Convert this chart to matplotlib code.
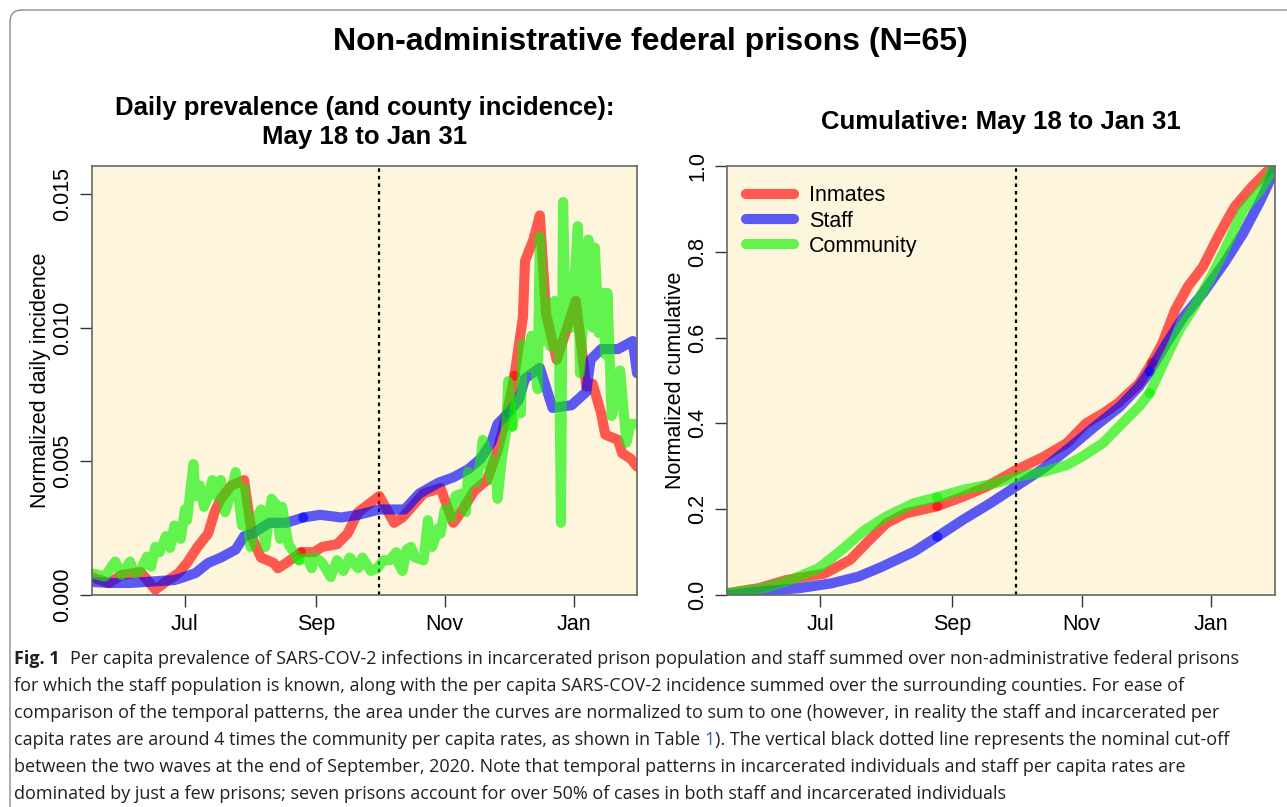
import numpy as np
import matplotlib
matplotlib.use("Agg")
import matplotlib.pyplot as plt
import matplotlib.dates as mdates
from matplotlib.patches import FancyBboxPatch
from matplotlib.transforms import IdentityTransform

# ------------------------------------------------------------------
# 1. Data (days since May 18, 2020)
# ------------------------------------------------------------------
start = np.datetime64("2020-05-18")
end_day = 258          # Jan 31
cutoff_day = 136       # Oct 1 (dotted line)

# daily panel, values in units of 1e-3
inmate_days = [0, 8, 14, 23, 30, 35, 41, 45, 50, 55, 58, 61, 66, 72, 76, 80, 86, 88, 92,
               99, 105, 109, 116, 121, 126, 131, 136, 143, 147, 157, 165, 171, 173, 181,
               187, 192, 197, 200, 204, 205, 209, 212, 215, 220, 229, 234, 237, 241, 243,
               249, 251, 255, 258]
inmate_daily = [0.67, 0.45, 0.75, 0.86, 0.2, 0.5, 0.82, 1.2, 1.8, 2.3, 3.1, 3.6, 4.1, 4.3,
                2.1, 1.4, 1.2, 1.0, 1.2, 1.6, 1.6, 1.8, 1.9, 2.3, 3.1, 3.4, 3.7, 2.7, 2.9,
                3.8, 4.0, 2.7, 2.9, 3.9, 4.3, 5.4, 7.0, 8.2, 10.4, 12.5, 13.3, 14.2, 10.5,
                8.8, 11.0, 7.8, 7.9, 6.8, 6.0, 5.8, 5.3, 5.1, 4.8]

staff_days = [0, 8, 18, 39, 42, 49, 55, 61, 68, 72, 76, 84, 92, 100, 108, 118, 126, 136,
              148, 155, 164, 171, 178, 184, 189, 192, 197, 202, 205, 212, 218, 227, 234,
              236, 241, 249, 256, 258]
staff_daily = [0.49, 0.45, 0.45, 0.56, 0.63, 0.82, 1.2, 1.4, 1.7, 2.2, 2.3, 2.7, 2.7, 2.9,
               3.0, 2.9, 3.0, 3.2, 3.2, 3.8, 4.2, 4.4, 4.7, 5.1, 5.7, 6.4, 6.8, 7.3, 8.1,
               8.5, 7.0, 7.1, 7.6, 8.8, 9.2, 9.2, 9.5, 8.3]

community_days = [0, 6, 11, 14, 18, 20, 23, 26, 28, 30, 32, 35, 37, 39, 42, 44, 45, 48, 49,
                  51, 53, 55, 57, 59, 61, 63, 65, 68, 69, 71, 72, 75, 78, 80, 82, 85, 87,
                  89, 90, 93, 98, 102, 104, 106, 109, 113, 116, 119, 122, 126, 128, 132,
                  135, 138, 141, 144, 145, 147, 149, 151, 153, 157, 159, 161, 164, 165,
                  167, 170, 172, 175, 177, 178, 182, 184, 185, 187, 189, 191, 192, 194,
                  196, 197, 199, 201, 203, 204, 206, 208, 211, 212, 214, 216, 217, 219,
                  221, 222, 223, 224, 227, 230, 231, 233, 235, 237, 238, 240, 242, 243,
                  244, 246, 249, 250, 253, 255, 257]
community_daily = [0.81, 0.69, 1.25, 0.75, 1.25, 0.82, 0.94, 1.43, 1.06, 1.8, 1.6, 2.2,
                   1.76, 2.6, 2.1, 3.2, 2.8, 4.9, 3.7, 4.1, 3.3, 3.7, 4.3, 3.7, 4.3, 3.1,
                   3.6, 4.6, 3.9, 2.6, 4.0, 1.8, 2.9, 3.2, 1.8, 3.6, 3.4, 2.1, 3.3, 1.9,
                   1.3, 1.4, 1.0, 1.4, 1.2, 0.67, 1.3, 0.9, 1.4, 1.0, 1.4, 0.9, 1.0, 1.3,
                   1.3, 1.6, 1.2, 0.9, 1.7, 1.8, 1.4, 1.3, 2.8, 1.8, 2.5, 2.3, 3.2, 2.9,
                   3.7, 3.8, 3.1, 4.6, 4.2, 5.1, 5.8, 5.4, 4.3, 5.0, 3.6, 5.1, 6.1, 8.0,
                   6.3, 7.3, 6.8, 9.4, 8.5, 9.7, 7.7, 13.4, 9.5, 10.9, 9.3, 11.0, 10.0,
                   2.7, 14.7, 11.0, 10.0, 13.8, 8.3, 11.0, 13.3, 10.0, 13.0, 9.8, 11.3,
                   9.0, 11.3, 6.7, 7.6, 8.4, 5.7, 6.4, 6.4]

# cumulative panel
inmate_cum_days = [0, 15, 28, 46, 58, 67, 75, 84, 99, 111, 122, 136, 149, 160, 169, 177,
                   184, 194, 200, 205, 211, 217, 224, 232, 239, 247, 254, 258]
inmate_cum = [0.004, 0.016, 0.035, 0.05, 0.082, 0.128, 0.167, 0.19, 0.207, 0.229, 0.252,
              0.291, 0.322, 0.354, 0.40, 0.423, 0.447, 0.493, 0.541, 0.587, 0.665, 0.719,
              0.765, 0.843, 0.905, 0.951, 0.986, 1.0]

staff_cum_days = [0, 15, 34, 49, 62, 73, 88, 99, 111, 124, 136, 149, 162, 173, 185, 194,
                  199, 207, 215, 224, 234, 243, 251, 255, 258]
staff_cum = [0.0, 0.008, 0.016, 0.027, 0.043, 0.066, 0.101, 0.136, 0.175, 0.214, 0.253,
             0.295, 0.346, 0.392, 0.439, 0.486, 0.521, 0.587, 0.649, 0.703, 0.773, 0.843,
             0.918, 0.96, 1.0]

community_cum_days = [0, 17, 30, 43, 54, 65, 75, 88, 99, 111, 126, 137, 149, 160, 167, 177,
                      186, 194, 199, 207, 213, 220, 228, 235, 243, 251, 258]
community_cum = [0.004, 0.016, 0.035, 0.062, 0.105, 0.152, 0.183, 0.214, 0.228, 0.245,
                 0.26, 0.276, 0.287, 0.303, 0.322, 0.354, 0.40, 0.439, 0.471, 0.556, 0.618,
                 0.672, 0.742, 0.812, 0.897, 0.943, 1.0]

labels = ["Inmates", "Staff", "Community"]
colors = [(1, 0, 0, 0.64), (0, 0, 1, 0.64), (0.05, 0.95, 0, 0.64)]

caption = [
    "Per capita prevalence of SARS-COV-2 infections in incarcerated prison population and staff summed over non-administrative federal prisons",
    "for which the staff population is known, along with the per capita SARS-COV-2 incidence summed over the surrounding counties. For ease of",
    "comparison of the temporal patterns, the area under the curves are normalized to sum to one (however, in reality the staff and incarcerated per",
    "capita rates are around 4 times the community per capita rates, as shown in Table",
    "between the two waves at the end of September, 2020. Note that temporal patterns in incarcerated individuals and staff per capita rates are",
    "dominated by just a few prisons; seven prisons account for over 50% of cases in both staff and incarcerated individuals",
]
caption_line4_tail = "). The vertical black dotted line represents the nominal cut-off"

# ------------------------------------------------------------------
# 2. Figure setup
# ------------------------------------------------------------------
W, H = 1287, 807
plt.rcParams["font.family"] = ["Liberation Sans", "DejaVu Sans"]
fig = plt.figure(figsize=(W / 100, H / 100), dpi=100)
fig.patch.set_facecolor("white")

# outer frame of the figure panel
frame = FancyBboxPatch((10, -30), 1320, 827, boxstyle="round,pad=0,rounding_size=12",
                       transform=IdentityTransform(), fc="none", ec="#8c8c8c", lw=1.0)
fig.patches.append(frame)


def px_axes(x0, x1, ytop, ybot):
    return fig.add_axes([x0 / W, 1 - ybot / H, (x1 - x0) / W, (ybot - ytop) / H])


def to_dates(days):
    return start + np.array(days).astype("timedelta64[D]")


def plot_split(ax, days, vals, color, label=None):
    # the original draws each series in pieces, which leaves darker dots where they meet
    days = np.array(days)
    k1 = int(np.argmin(np.abs(days - 99)))
    k2 = int(np.argmin(np.abs(days - 199)))
    d = to_dates(days)
    v = np.array(vals)
    for i, (a, b) in enumerate([(0, k1 + 1), (k1, k2 + 1), (k2, len(d))]):
        ax.plot(d[a:b], v[a:b], color=color, lw=7.3, solid_capstyle="round",
                solid_joinstyle="round", label=label if i == 0 else None)


def style_axes(ax, ymax, yticks, yfmt):
    ax.set_facecolor("#fdf6dc")
    ax.set_xlim(start, start + np.timedelta64(end_day, "D"))
    ax.set_ylim(0, ymax)
    ax.xaxis.set_major_locator(mdates.MonthLocator(bymonth=[1, 7, 9, 11]))
    ax.xaxis.set_major_formatter(mdates.DateFormatter("%b"))
    ax.set_yticks(yticks)
    ax.set_yticklabels([yfmt.format(t) for t in yticks], rotation=90, va="center")
    ax.tick_params(axis="both", length=8.5, width=1.0, color="#333333",
                   labelsize=15.5, pad=5)
    for s in ax.spines.values():
        s.set_color("#666666")
        s.set_linewidth(1.2)
    ax.axvline(start + np.timedelta64(cutoff_day, "D"), color="black", lw=1.6,
               linestyle=(0, (1.6, 1.8)), zorder=1)


# ------------------------------------------------------------------
# 3. Left: daily prevalence
# ------------------------------------------------------------------
ax1 = px_axes(92, 637, 166, 595)
style_axes(ax1, 0.01605, [0.0, 0.005, 0.010, 0.015], "{:.3f}")
for days, vals, c in [(inmate_days, inmate_daily, colors[0]),
                      (staff_days, staff_daily, colors[1]),
                      (community_days, community_daily, colors[2])]:
    plot_split(ax1, days, np.array(vals) * 1e-3, c)
ax1.set_ylabel("Normalized daily incidence", fontsize=15.5, labelpad=1)

# ------------------------------------------------------------------
# 4. Right: cumulative
# ------------------------------------------------------------------
ax2 = px_axes(727, 1275, 166, 595)
style_axes(ax2, 1.0, [0.0, 0.2, 0.4, 0.6, 0.8, 1.0], "{:.1f}")
for days, vals, c, lab in [(inmate_cum_days, inmate_cum, colors[0], labels[0]),
                           (staff_cum_days, staff_cum, colors[1], labels[1]),
                           (community_cum_days, community_cum, colors[2], labels[2])]:
    plot_split(ax2, days, vals, c, lab)
ax2.set_ylabel("Normalized cumulative", fontsize=15.5, labelpad=1)
ax2.legend(loc="upper left", frameon=False, fontsize=15.5, handlelength=2.2,
           handletextpad=0.7, labelspacing=0.2, borderaxespad=0.4, borderpad=0.5)

# ------------------------------------------------------------------
# 5. Titles
# ------------------------------------------------------------------
fig.text(650 / W, 1 - 42 / H, "Non-administrative federal prisons (N=65)",
         ha="center", va="center", fontsize=23, fontweight="bold")
fig.text(364.5 / W, 1 - 108 / H, "Daily prevalence (and county incidence):",
         ha="center", va="center", fontsize=18.5, fontweight="bold")
fig.text(364.5 / W, 1 - 137 / H, "May 18 to Jan 31",
         ha="center", va="center", fontsize=18.5, fontweight="bold")
fig.text(1001 / W, 1 - 122 / H, "Cumulative: May 18 to Jan 31",
         ha="center", va="center", fontsize=18.5, fontweight="bold")

# ------------------------------------------------------------------
# 6. Caption
# ------------------------------------------------------------------
cap_kw = dict(fontsize=13.0, family=["Open Sans", "DejaVu Sans"], color="#231f20",
              va="baseline", ha="left")
r = fig.canvas.get_renderer()
baselines = [664, 691, 718, 745, 772, 799]

t = fig.text(14 / W, 1 - baselines[0] / H, "Fig. 1", fontweight="bold", **cap_kw)
x0 = 14 + t.get_window_extent(r).width + 10
fig.text(x0 / W, 1 - baselines[0] / H, caption[0], **cap_kw)
for i in [1, 2, 4, 5]:
    fig.text(14 / W, 1 - baselines[i] / H, caption[i], **cap_kw)

t = fig.text(14 / W, 1 - baselines[3] / H, caption[3], **cap_kw)
sp = fig.text(0, 0, "x x", **cap_kw).get_window_extent(r).width - \
    fig.text(0, 0, "xx", **cap_kw).get_window_extent(r).width
fig.texts[-1].remove(); fig.texts[-1].remove()
x = 14 + t.get_window_extent(r).width + sp
t = fig.text(x / W, 1 - baselines[3] / H, "1", **{**cap_kw, "color": "#2f5eab"})
x += t.get_window_extent(r).width
fig.text(x / W, 1 - baselines[3] / H, caption_line4_tail, **cap_kw)

fig.savefig("out.png", dpi=100, facecolor="white")
